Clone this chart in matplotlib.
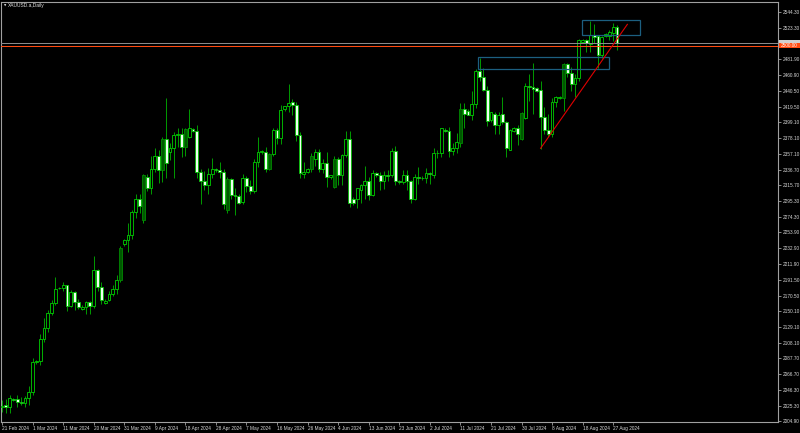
import matplotlib
matplotlib.use('Agg')
import matplotlib.pyplot as plt
from matplotlib.patches import Rectangle
import numpy as np

# ---------------- data (XAUUSD.a, Daily, 21 Feb 2024 .. 28 Aug 2024, Sunday bars included) ----
opens = [2024, 2027, 2024, 2034, 2034, 2031, 2029.5, 2035, 2044, 2083,
         2084, 2114, 2128, 2148, 2161, 2180, 2181, 2184, 2157, 2175,
         2162, 2153, 2156, 2162, 2157, 2204, 2182, 2161, 2165, 2173,
         2179, 2191, 2238, 2244, 2250, 2281, 2298, 2270, 2327, 2313,
         2338, 2355, 2336, 2377, 2360, 2365, 2382, 2383, 2366, 2380,
         2390, 2388, 2333, 2322, 2316, 2331, 2337, 2336, 2334, 2283,
         2324, 2303, 2302, 2294, 2326, 2315, 2309, 2347, 2360, 2360,
         2338, 2357, 2389, 2378, 2416, 2420, 2426, 2422, 2382, 2331,
         2334, 2337, 2351, 2360, 2338, 2345, 2327, 2314, 2350, 2329,
         2356, 2377, 2298, 2298, 2310, 2316, 2321, 2303, 2332, 2329,
         2321, 2329, 2329, 2361, 2321, 2320, 2330, 2321, 2298, 2327,
         2326, 2325, 2332, 2330, 2359, 2358, 2389, 2388, 2361, 2365,
         2372, 2416, 2414, 2409, 2423, 2467, 2459, 2442, 2402, 2410,
         2395, 2410, 2400, 2363, 2388, 2392, 2377, 2405, 2447, 2445,
         2444, 2441, 2406, 2389, 2383, 2426, 2431, 2431, 2476, 2464,
         2449, 2457, 2505, 2507, 2502, 2514, 2513, 2488, 2513, 2513,
         2517, 2525]
highs = [2033, 2034, 2040, 2035, 2039, 2037, 2038, 2051, 2088, 2086,
         2120, 2141, 2152, 2165, 2195, 2182, 2189, 2185, 2178, 2177,
         2166, 2158, 2164, 2163, 2223, 2206, 2188, 2166, 2176, 2184,
         2198, 2236, 2245, 2266, 2283, 2305, 2305, 2331, 2331, 2354,
         2365, 2363, 2379, 2431, 2372, 2386, 2392, 2392, 2392, 2417,
         2392, 2395, 2337, 2335, 2339, 2352, 2339, 2346, 2337, 2327,
         2326, 2312, 2305, 2331, 2328, 2323, 2351, 2379, 2362, 2367,
         2359, 2392, 2392, 2422, 2421, 2450, 2430, 2426, 2386, 2347,
         2339, 2358, 2364, 2364, 2351, 2360, 2330, 2354, 2353, 2357,
         2388, 2387, 2300, 2313, 2318, 2342, 2327, 2336, 2334, 2334,
         2335, 2336, 2365, 2368, 2323, 2336, 2336, 2323, 2331, 2340,
         2328, 2339, 2334, 2365, 2363, 2392, 2391, 2393, 2372, 2385,
         2424, 2424, 2416, 2440, 2469, 2484, 2470, 2447, 2413, 2413,
         2412, 2432, 2401, 2390, 2393, 2396, 2412, 2451, 2462, 2477,
         2446, 2454, 2419, 2410, 2431, 2434, 2433, 2477, 2477, 2472,
         2463, 2509, 2509, 2509, 2532, 2528, 2514, 2513, 2516, 2521,
         2530, 2527]
lows = [2017, 2016, 2016, 2032, 2024, 2027, 2024, 2027, 2039, 2081,
        2079, 2110, 2123, 2145, 2158, 2179, 2176, 2150, 2155, 2151,
        2153, 2152, 2146, 2146, 2154, 2176, 2160, 2160, 2163, 2170,
        2173, 2188, 2236, 2228, 2245, 2273, 2279, 2266, 2309, 2305,
        2334, 2319, 2320, 2326, 2349, 2325, 2367, 2353, 2355, 2378,
        2386, 2326, 2291, 2310, 2305, 2326, 2333, 2325, 2285, 2280,
        2298, 2277, 2291, 2291, 2307, 2304, 2306, 2340, 2357, 2333,
        2336, 2354, 2370, 2371, 2414, 2413, 2408, 2374, 2326, 2325,
        2332, 2333, 2341, 2334, 2332, 2314, 2324, 2313, 2316, 2316,
        2353, 2287, 2290, 2286, 2293, 2298, 2296, 2302, 2327, 2310,
        2311, 2322, 2327, 2316, 2318, 2318, 2310, 2293, 2296, 2318,
        2323, 2319, 2318, 2326, 2352, 2353, 2386, 2353, 2356, 2359,
        2367, 2392, 2408, 2402, 2418, 2453, 2440, 2394, 2400, 2384,
        2384, 2397, 2353, 2362, 2386, 2369, 2376, 2403, 2427, 2410,
        2439, 2364, 2384, 2380, 2379, 2419, 2429, 2414, 2459, 2440,
        2432, 2454, 2504, 2492, 2492, 2503, 2471, 2484, 2512, 2507,
        2506, 2494]
closes = [2025.5, 2024, 2035, 2033, 2031, 2029.5, 2035, 2044, 2083, 2084,
          2114, 2128, 2148, 2161, 2179, 2181, 2185, 2157, 2175, 2162,
          2156, 2156, 2162, 2157, 2204, 2182, 2165, 2164, 2173, 2179,
          2191, 2233, 2244, 2250, 2281, 2298, 2289, 2329, 2313, 2338,
          2355, 2336, 2377, 2345, 2365, 2382, 2383, 2367, 2390, 2391,
          2388, 2333, 2322, 2316, 2331, 2337, 2336, 2334, 2291, 2324,
          2303, 2302, 2293, 2326, 2315, 2309, 2347, 2360, 2360.5, 2338,
          2357, 2389, 2378, 2415, 2420, 2425, 2422, 2382, 2332, 2334,
          2337, 2354, 2360, 2338, 2345, 2327, 2329, 2350, 2329, 2356,
          2377, 2293, 2292, 2312, 2316, 2321, 2303, 2332, 2329, 2321,
          2329, 2328.5, 2361, 2321, 2320, 2330, 2321, 2298, 2327, 2326,
          2325, 2332, 2331, 2359, 2358, 2391, 2388, 2361, 2365, 2373,
          2416, 2410, 2409, 2423, 2467, 2459, 2442, 2401, 2412, 2395,
          2409, 2399, 2365, 2389, 2392, 2383, 2411, 2447, 2445, 2443,
          2440, 2406, 2389, 2383, 2426, 2432, 2431.5, 2476, 2464, 2449,
          2457, 2507, 2508, 2504, 2514, 2512, 2488, 2512, 2515, 2518,
          2525, 2504]
signal_bars = [31, 37, 42, 48, 59, 70, 81, 87, 120, 136, 147]

date_tick_idx = list(range(0, 161, 8))
date_labels = ['21 Feb 2024', '1 Mar 2024', '11 Mar 2024', '20 Mar 2024', '31 Mar 2024',
               '9 Apr 2024', '18 Apr 2024', '28 Apr 2024', '7 May 2024', '16 May 2024',
               '26 May 2024', '4 Jun 2024', '13 Jun 2024', '23 Jun 2024', '2 Jul 2024',
               '11 Jul 2024', '21 Jul 2024', '30 Jul 2024', '8 Aug 2024', '18 Aug 2024',
               '27 Aug 2024']
price_ticks = [2544.30, 2523.30, 2481.90, 2460.90, 2440.50, 2419.50, 2399.10, 2378.10,
               2357.10, 2336.70, 2315.70, 2295.30, 2274.30, 2253.90, 2232.90, 2211.90,
               2191.50, 2170.50, 2150.10, 2129.10, 2108.10, 2087.70, 2066.70, 2046.30,
               2025.30, 2004.90]
hline_price = 2500.00
trend_x = [141.0, 163.7]
trend_y = [2364.7, 2528.0]
rect_lower = (124.6, 2468.8, 158.8, 2484.6)   # x0, y0, x1, y1
rect_upper = (151.8, 2513.6, 166.9, 2533.8)
title = 'XAUUSD.a,Daily'

# ---------------- figure ----------------
plt.rcParams['font.family'] = ['Liberation Sans', 'DejaVu Sans']
W, H = 800, 433
fig = plt.figure(figsize=(W / 100, H / 100), dpi=100, facecolor='black')
ax = fig.add_axes([1 / W, 11 / H, 777 / W, 420 / H])
ax.set_facecolor('black')

o = np.array(opens, float); h = np.array(highs, float)
l = np.array(lows, float); c = np.array(closes, float)
x = np.arange(len(o))

wick_col = '#00b400'
ax.vlines(x, l, h, color=wick_col, linewidth=0.6, zorder=2)

bottom = np.minimum(o, c)
height = np.maximum(np.abs(c - o), 0.7)
up = c >= o
sig = np.zeros(len(o), bool)
sig[signal_bars] = True

m = up & ~sig
ax.bar(x[m], height[m], bottom=bottom[m], width=0.74, facecolor='black',
       edgecolor='#00d000', linewidth=0.6, zorder=3)
m = ~up & ~sig
ax.bar(x[m], height[m], bottom=bottom[m], width=0.74, facecolor='#eefff0',
       edgecolor='#00c000', linewidth=0.6, zorder=3)
ax.bar(x[sig], height[sig], bottom=bottom[sig], width=0.74, facecolor='#005800',
       edgecolor='#008a00', linewidth=0.6, zorder=3)

# objects
ax.axhline(c[-1], color='#8a8a8a', linewidth=0.72, zorder=4)
ax.axhline(hline_price, color='#ff4a10', linewidth=0.75, zorder=4)
for (x0, y0, x1, y1) in (rect_lower, rect_upper):
    ax.add_patch(Rectangle((x0, y0), x1 - x0, y1 - y0, fill=False,
                           edgecolor='#1c5f80', linewidth=0.9, zorder=5))
ax.plot(trend_x, trend_y, color='#e00000', linewidth=0.8, zorder=6)

# limits matching the pixel layout
ax.set_xlim(-0.262, 203.14)
ax.set_ylim(2004.0, 2557.48)

spine_col = '#a0a0a0'
for s in ax.spines.values():
    s.set_color(spine_col)
    s.set_linewidth(0.8)

ax.set_xticks(date_tick_idx)
ax.set_xticklabels(date_labels)
for lbl in ax.get_xticklabels():
    lbl.set_horizontalalignment('left')
ax.tick_params(axis='x', direction='out', length=2.2, width=0.6, color=spine_col,
               labelsize=3.4, labelcolor='#d8d8d8', pad=0.6)

ax.yaxis.tick_right()
ax.set_yticks(price_ticks)
ax.set_yticklabels([f'{p:.2f}' for p in price_ticks])
ax.tick_params(axis='y', direction='out', length=2.0, width=0.6, color=spine_col,
               labelsize=3.4, labelcolor='#d8d8d8', pad=1.2)

# price tags on the right scale
ytr = ax.get_yaxis_transform()
ax.add_patch(Rectangle((1.0015, c[-1] - 3.2), 0.027, 6.4, transform=ytr,
                       facecolor='#d0d0d0', edgecolor='none', clip_on=False, zorder=7))
ax.add_patch(Rectangle((1.0015, hline_price - 3.1), 0.027, 6.2, transform=ytr,
                       facecolor='#ff4a10', edgecolor='none', clip_on=False, zorder=8))
ax.text(1.004, hline_price, f'{hline_price:.2f}', transform=ytr, fontsize=3.4,
        color='white', va='center', ha='left', zorder=9, clip_on=False)

# title
ax.text(0.0035, 0.9925, '\u25bc', transform=ax.transAxes, fontsize=2.2,
        color='#e0e0e0', va='center', ha='left', family='DejaVu Sans')
ax.text(0.0095, 0.9925, title, transform=ax.transAxes, fontsize=3.5,
        color='#e0e0e0', va='center', ha='left')

fig.savefig('out.png', dpi=100, facecolor='black')
